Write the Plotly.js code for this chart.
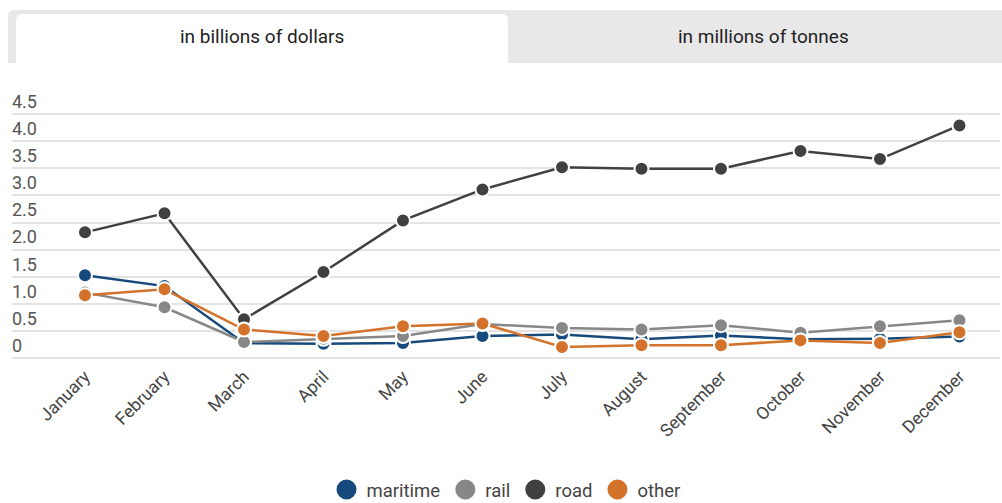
<!DOCTYPE html>
<html>
<head>
<meta charset="utf-8">
<script src="https://cdn.plot.ly/plotly-3.0.1.min.js"></script>
<style>
html,body{margin:0;padding:0;background:#fff;}
#chart{width:1002px;height:503px;}
</style>
</head>
<body>
<div id="chart"></div>
<script>
const months = ["January","February","March","April","May","June","July","August","September","October","November","December"];
const maritime = [1.53, 1.33, 0.28, 0.27, 0.28, 0.41, 0.44, 0.35, 0.42, 0.35, 0.36, 0.40];
const rail     = [1.21, 0.94, 0.30, 0.36, 0.41, 0.63, 0.56, 0.53, 0.61, 0.47, 0.59, 0.70];
const road     = [2.32, 2.67, 0.72, 1.59, 2.54, 3.11, 3.52, 3.49, 3.49, 3.82, 3.67, 4.29];
const other    = [1.16, 1.27, 0.53, 0.41, 0.59, 0.64, 0.21, 0.24, 0.24, 0.33, 0.28, 0.48];
const seriesNames = ["maritime","rail","road","other"];
const seriesColors = ["#174a7c","#878787","#404040","#d3722a"];
const yTicks = [0, 0.5, 1, 1.5, 2, 2.5, 3, 3.5, 4, 4.5];
const yTickText = ["0","0.5","1.0","1.5","2.0","2.5","3.0","3.5","4.0","4.5"];
const tabLabels = ["in billions of dollars","in millions of tonnes"];

const W = 1002, H = 503;
const M = {l: 12, r: 2, t: 88, b: 141, autoexpand: false};
const PW = W - M.l - M.r, PH = H - M.t - M.b;
const px = x => (x - M.l) / PW;
const py = y => (H - M.b - y) / PH;

const values = [maritime, rail, road, other];
const traces = [];
values.forEach((v, i) => {
  traces.push({
    x: months, y: v, type: 'scatter', mode: 'lines+markers',
    name: seriesNames[i], showlegend: false, cliponaxis: false,
    line: {color: seriesColors[i], width: 2.5},
    marker: {color: seriesColors[i], size: 14, line: {color: '#ffffff', width: 2}},
    hoverinfo: 'x+y+name'
  });
});
values.forEach((v, i) => {
  traces.push({
    x: [null], y: [null], type: 'scatter', mode: 'markers',
    name: seriesNames[i], showlegend: true,
    marker: {color: seriesColors[i], size: 16, line: {color: seriesColors[i], width: 4}}
  });
});

const shapes = [
  {type: 'path', xref: 'paper', yref: 'paper',
   path: (function(){
     const x0 = 8, x1 = 1002, y0 = 10, y1 = 63, r = 6;
     const rx = r / PW, ry = r / PH;
     return `M ${px(x0)},${py(y1)} L ${px(x0)},${py(y0) - ry} Q ${px(x0)},${py(y0)} ${px(x0) + rx},${py(y0)} ` +
            `L ${px(x1)},${py(y0)} L ${px(x1)},${py(y1)} Z`;
   })(),
   fillcolor: '#e8e8e8', line: {width: 0}, layer: 'below'},
  {type: 'path', xref: 'paper', yref: 'paper',
   path: (function(){
     const x0 = 16, x1 = 508, y0 = 14, y1 = 63, r = 6;
     const rx = r / PW, ry = r / PH;
     return `M ${px(x0)},${py(y1)} L ${px(x0)},${py(y0) - ry} Q ${px(x0)},${py(y0)} ${px(x0) + rx},${py(y0)} ` +
            `L ${px(x1) - rx},${py(y0)} Q ${px(x1)},${py(y0)} ${px(x1)},${py(y0) - ry} L ${px(x1)},${py(y1)} Z`;
   })(),
   fillcolor: '#ffffff', line: {width: 0}, layer: 'below'}
];

const tabFont = {family: 'Roboto, sans-serif', size: 19, color: '#222'};
const annotations = [
  {xref: 'paper', yref: 'paper', x: px(262), y: py(37), text: tabLabels[0], showarrow: false,
   xanchor: 'center', yanchor: 'middle', font: tabFont},
  {xref: 'paper', yref: 'paper', x: px(763), y: py(37), text: tabLabels[1], showarrow: false,
   xanchor: 'center', yanchor: 'middle', font: tabFont}
];

const yPerUnit = 54.29;
const yBottom = -((H - M.b) - 358.3) / yPerUnit;
const yTop = 4.5 + (114 - M.t) / yPerUnit;
const catW = PW / 12.428;
const xLeft = -(85 - M.l) / catW;
const xRight = xLeft + PW / catW;

const layout = {
  width: W, height: H,
  margin: M,
  paper_bgcolor: '#ffffff', plot_bgcolor: '#ffffff',
  font: {family: 'Roboto, sans-serif', color: '#444'},
  showlegend: true,
  legend: {orientation: 'h', x: 0.5, xanchor: 'center', y: py(490), yanchor: 'middle',
           font: {size: 18.5, color: '#444'}, itemwidth: 30, traceorder: 'normal'},
  xaxis: {type: 'category', range: [xLeft, xRight], showgrid: false, zeroline: false,
          showline: false, ticks: '', tickangle: -45, tickfont: {size: 17.5, color: '#444'}},
  yaxis: {range: [yBottom, yTop], tickvals: yTicks, ticktext: yTickText,
          showgrid: true, gridcolor: '#e3e3e3', gridwidth: 2, zeroline: false,
          ticklabelposition: 'inside top', ticklabelstandoff: -3,
          tickfont: {size: 18, color: '#555'}},
  shapes: shapes,
  annotations: annotations,
  hovermode: 'closest'
};

Plotly.newPlot('chart', traces, layout, {displayModeBar: false});
</script>
</body>
</html>
